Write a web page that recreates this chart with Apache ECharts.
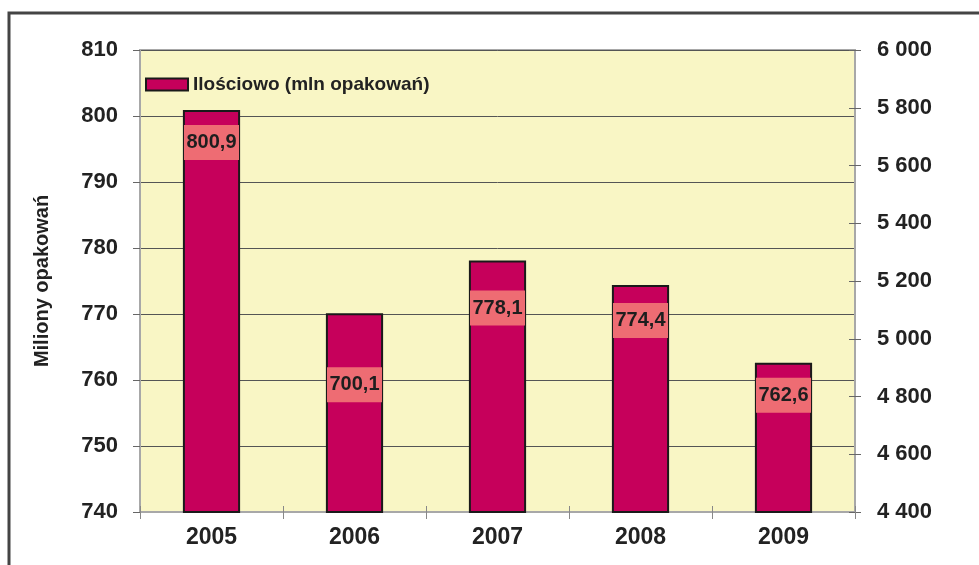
<!DOCTYPE html>
<html>
<head>
<meta charset="utf-8">
<script src="https://cdn.jsdelivr.net/npm/echarts@6/dist/echarts.min.js"></script>
<style>html,body{margin:0;padding:0;background:#fff;}#c{width:979px;height:565px;}</style>
</head>
<body>
<div id="c"></div>
<script>
const categories = ['2005', '2006', '2007', '2008', '2009'];
const quantityValues = [800.9, 770.1, 778.1, 774.4, 762.6];
const quantityLabels = ['800,9', '700,1', '778,1', '774,4', '762,6'];
const leftTicks = [740, 750, 760, 770, 780, 790, 800, 810];
const rightTicks = [4400, 4600, 4800, 5000, 5200, 5400, 5600, 5800, 6000];
const seriesName = 'Ilościowo (mln opakowań)';
const axisName = 'Miliony opakowań';

// label placement (style only)
const labelDistance = [15, 54, 30, 18, 15];

const chart = echarts.init(document.getElementById('c'));
const FONT = '"Liberation Sans", Arial, sans-serif';
const NARROW = '"Liberation Sans Narrow", "Liberation Sans", Arial, sans-serif';
const rightFmt = v => String(v).replace(/\B(?=(\d{3})+(?!\d))/g, ' ');

chart.setOption({
  animation: false,
  backgroundColor: '#ffffff',
  graphic: [{
    type: 'rect',
    shape: { x: 9, y: 13, width: 1000, height: 600 },
    style: { fill: 'none', stroke: '#444444', lineWidth: 3 },
    z: 100
  }],
  grid: {
    left: 140, right: 124, top: 50, bottom: 53,
    show: true, backgroundColor: '#F9F6C5', borderColor: '#A8A8A8', borderWidth: 2
  },
  legend: {
    left: 140, top: 70,
    icon: 'rect',
    itemWidth: 42, itemHeight: 12, itemGap: 10,
    textStyle: { fontFamily: FONT, fontWeight: 'bold', fontSize: 19, color: '#222' },
    data: [seriesName]
  },
  xAxis: [{
    type: 'category',
    data: categories,
    axisLine: { lineStyle: { color: '#A8A8A8', width: 2 } },
    axisTick: { show: true, length: 7, lineStyle: { color: '#888', width: 1 } },
    axisLabel: { fontFamily: NARROW, fontWeight: 'bold', fontSize: 23, color: '#222', margin: 14 }
  }, {
    type: 'category',
    data: categories,
    position: 'bottom',
    axisLine: { show: false },
    axisTick: { show: true, inside: true, length: 6, lineStyle: { color: '#888', width: 1 } },
    axisLabel: { show: false },
    splitLine: { show: false }
  }],
  yAxis: [{
    type: 'value',
    min: leftTicks[0], max: leftTicks[leftTicks.length - 1], interval: 10,
    name: axisName, nameLocation: 'middle', nameGap: 88, nameRotate: 90,
    nameTextStyle: { fontFamily: FONT, fontWeight: 'bold', fontSize: 20, color: '#222' },
    axisLine: { show: true, lineStyle: { color: '#A8A8A8', width: 2 } },
    axisTick: { show: true, length: 7, lineStyle: { color: '#666' } },
    axisLabel: { fontFamily: FONT, fontWeight: 'bold', fontSize: 22, color: '#222', margin: 22 },
    splitLine: { show: true, lineStyle: { color: '#555', width: 1 } }
  }, {
    type: 'value',
    min: rightTicks[0], max: rightTicks[rightTicks.length - 1], interval: 200,
    position: 'right',
    axisLine: { show: true, lineStyle: { color: '#A8A8A8', width: 2 } },
    axisTick: { show: true, length: 6, lineStyle: { color: '#666' } },
    axisLabel: {
      fontFamily: FONT, fontWeight: 'bold', fontSize: 22, color: '#222', margin: 22,
      formatter: rightFmt
    },
    splitLine: { show: false }
  }, {
    type: 'value',
    min: rightTicks[0], max: rightTicks[rightTicks.length - 1], interval: 200,
    position: 'right',
    axisLine: { show: false },
    axisTick: { show: true, inside: true, length: 6, lineStyle: { color: '#666' } },
    axisLabel: { show: false },
    splitLine: { show: false }
  }],
  series: [{
    name: seriesName,
    type: 'bar',
    xAxisIndex: 0,
    yAxisIndex: 0,
    barWidth: '40%',
    itemStyle: { color: '#C6005B', borderColor: '#1a1a1a', borderWidth: 2 },
    data: quantityValues.map((v, i) => ({
      value: v,
      label: { distance: labelDistance[i] }
    })),
    label: {
      show: true,
      position: 'insideTop',
      formatter: p => quantityLabels[p.dataIndex],
      fontFamily: FONT, fontWeight: 'bold', fontSize: 20, color: '#1e1e1e',
      backgroundColor: '#EE6C73',
      width: 47, align: 'center',
      lineHeight: 23,
      padding: [6, 4]
    }
  }]
});
</script>
</body>
</html>
